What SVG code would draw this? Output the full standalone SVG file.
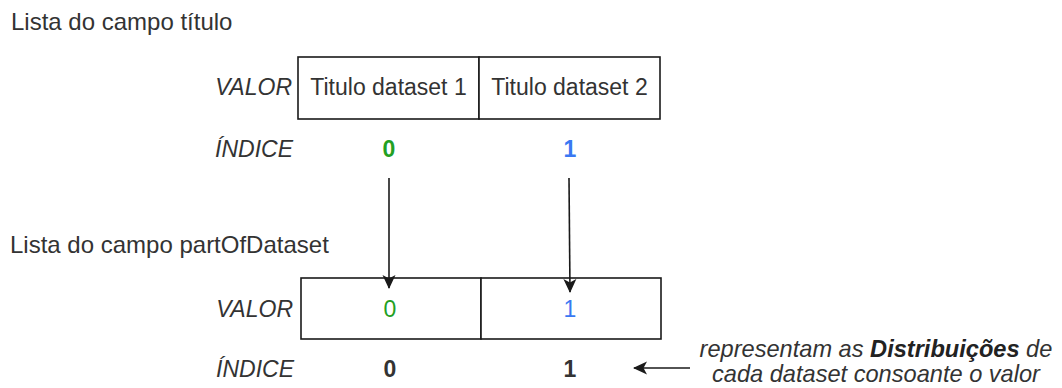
<svg xmlns="http://www.w3.org/2000/svg" width="1062" height="388" viewBox="0 0 1062 388">
  <style>
    text { font-family: "Liberation Sans", Arial, sans-serif; font-size: 23px; fill: #333333; }
    .title { font-size: 24px; }
    .lbl { font-style: italic; text-anchor: end; }
    .idx { text-anchor: middle; font-weight: bold; }
    .val { text-anchor: middle; }
    .green { fill: #23a023; }
    .blue { fill: #3a78f2; }
    .cell { fill: #ffffff; stroke: #1a1a1a; stroke-width: 1.6; }
    .conn { stroke: #1a1a1a; stroke-width: 1.6; fill: none; }
    .note { font-style: italic; text-anchor: middle; font-size: 23.6px; }
  </style>
  <defs>
    <marker id="arrow" viewBox="0 0 14 14" refX="13" refY="7" markerWidth="14" markerHeight="14" markerUnits="userSpaceOnUse" orient="auto">
      <path d="M0,0.5 L14,7 L0,13.5 L3.5,7 Z" fill="#1a1a1a"/>
    </marker>
  </defs>

  <!-- first list: titles -->
  <g id="list-titulo">
    <text class="title" x="11" y="30">Lista do campo título</text>
    <text class="lbl" x="292" y="95">VALOR</text>
    <g id="titulo-cell-0">
      <rect class="cell" x="298" y="57" width="181" height="62"/>
      <text class="val" x="388.5" y="95">Titulo dataset 1</text>
    </g>
    <g id="titulo-cell-1">
      <rect class="cell" x="479" y="57" width="181" height="62"/>
      <text class="val" x="569.5" y="95">Titulo dataset 2</text>
    </g>
    <text class="lbl" x="293" y="157">ÍNDICE</text>
    <text class="idx green" x="389" y="157">0</text>
    <text class="idx blue" x="570" y="157">1</text>
  </g>

  <!-- second list: partOfDataset -->
  <g id="list-partof">
    <text class="title" x="10" y="253">Lista do campo partOfDataset</text>
    <text class="lbl" x="293" y="317">VALOR</text>
    <g id="partof-cell-0">
      <rect class="cell" x="301" y="278" width="180" height="61"/>
      <text class="val green" x="390" y="317">0</text>
    </g>
    <g id="partof-cell-1">
      <rect class="cell" x="481" y="278" width="180" height="61"/>
      <text class="val blue" x="570" y="317">1</text>
    </g>
    <text class="lbl" x="294" y="377">ÍNDICE</text>
    <text class="idx" x="390" y="377">0</text>
    <text class="idx" x="570" y="377">1</text>
  </g>

  <g id="note">
    <text class="note" x="876" y="357">representam as <tspan font-weight="bold" fill="#222222">Distribuições</tspan> de</text>
    <text class="note" x="876" y="382">cada dataset consoante o valor</text>
  </g>

  <!-- connectors -->
  <g id="connectors">
    <line class="conn" x1="389" y1="178" x2="389" y2="288" marker-end="url(#arrow)"/>
    <line class="conn" x1="569" y1="178" x2="570" y2="292" marker-end="url(#arrow)"/>
    <line class="conn" x1="690" y1="368" x2="634" y2="368" marker-end="url(#arrow)"/>
  </g>
</svg>
